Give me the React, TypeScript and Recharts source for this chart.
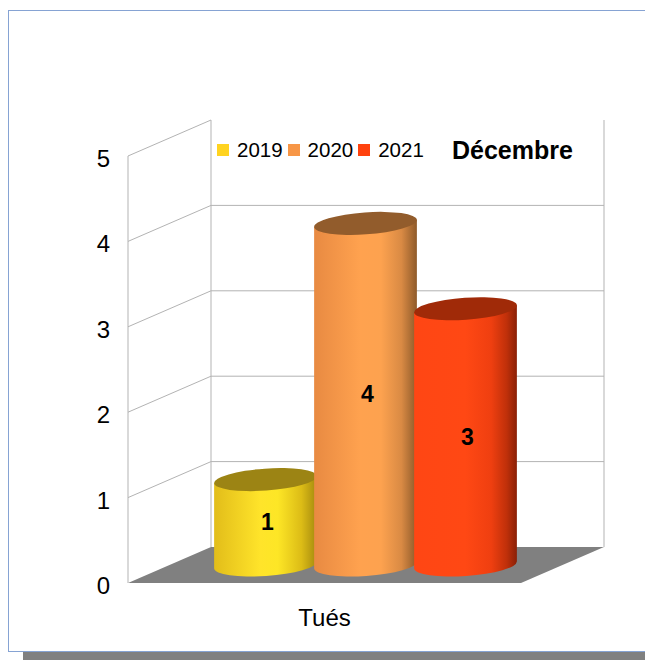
import React from 'react';
import { BarChart, Bar, XAxis, YAxis, CartesianGrid, Legend, LabelList } from 'recharts';

const categories = ['Tués'];
const values2019 = [1];
const values2020 = [4];
const values2021 = [3];
const yTicks = [0, 1, 2, 3, 4, 5];
const seriesNames = ['2019', '2020', '2021'];
const seriesKeys = ['s2019', 's2020', 's2021'];
const legendColors = ['#ffd320', '#f79646', '#ff420e'];
const chartTitle = 'Décembre';

const data = categories.map((c, i) => ({
  name: c,
  s2019: values2019[i],
  s2020: values2020[i],
  s2021: values2021[i],
}));

const FONT = '"Liberation Sans", Arial, sans-serif';
// 3D depth offsets (back wall, and middle depth where the cylinders stand)
const DX = 83;
const DY = -36;
const MX = 41.5;
const MY = -18;
const GRID = '#b3b3b3';
const TILT = 4;

const cylStyles = [
  {
    id: 'g2019',
    stops: [
      ['0%', '#e2bd1a'],
      ['45%', '#ffe42a'],
      ['62%', '#fde626'],
      ['85%', '#dcbc16'],
      ['100%', '#a58a0e'],
    ],
    top: '#9c8414',
  },
  {
    id: 'g2020',
    stops: [
      ['0%', '#e88a42'],
      ['45%', '#ffa24f'],
      ['65%', '#fda24f'],
      ['85%', '#d98a44'],
      ['100%', '#8e5a2a'],
    ],
    top: '#925c2c',
  },
  {
    id: 'g2021',
    stops: [
      ['0%', '#ff4614'],
      ['50%', '#ff4814'],
      ['75%', '#ef3f10'],
      ['90%', '#c0300a'],
      ['100%', '#8a2006'],
    ],
    top: '#a02a08',
  },
];

const makeCylinder = (si: number) => (props: any) => {
  const { x, y, width, height } = props;
  if (x == null || width == null || height == null) return null;
  const st = cylStyles[si];
  const w = width + 3;
  const rx = w / 2;
  const ry = 11;
  const cx = x + width / 2 + MX;
  const top = y + MY;
  const bottom = y + height + MY;
  const t = (TILT * Math.PI) / 180;
  const ex = rx * Math.cos(t);
  const ey = rx * Math.sin(t);
  const d = `M${cx - ex},${top + ey} L${cx - ex},${bottom + ey} A${rx},${ry} ${-TILT} 0 0 ${cx + ex},${bottom - ey} L${cx + ex},${top - ey} Z`;
  return (
    <g>
      <defs>
        <linearGradient id={st.id} x1="0" y1="0" x2="1" y2="0">
          {st.stops.map(([o, c]) => (
            <stop key={o} offset={o} stopColor={c} />
          ))}
        </linearGradient>
      </defs>
      <path d={d} fill={`url(#${st.id})`} />
      <ellipse cx={cx} cy={top} rx={rx} ry={ry} fill={st.top} transform={`rotate(${-TILT} ${cx} ${top})`} />
    </g>
  );
};

const CylLabel = (props: any) => {
  const vb = props.viewBox && props.viewBox.width != null ? props.viewBox : props;
  const { x, y, width, height } = vb;
  if (x == null) return null;
  return (
    <text
      x={x + width / 2 + MX + 2}
      y={y + height / 2 + MY + 8}
      textAnchor="middle"
      fontFamily={FONT}
      fontWeight="bold"
      fontSize={23}
      fill="#000"
    >
      {props.value}
    </text>
  );
};

const GridLine = (props: any) => {
  const { x1, y1, x2, x, y, width, height, index } = props;
  const isTop = Math.abs(y1 - y) < 0.5;
  const isBottom = Math.abs(y1 - (y + height)) < 0.5;
  return (
    <g key={`gl-${index}`}>
      {index === 0 && (
        <g>
          <polygon
            points={`${x},${y + height} ${x + DX},${y + height + DY} ${x + width + DX},${y + height + DY} ${x + width},${y + height}`}
            fill="#808080"
          />
          <line x1={x} y1={y} x2={x} y2={y + height} stroke={GRID} />
          <line x1={x + DX} y1={y + DY} x2={x + DX} y2={y + height + DY} stroke={GRID} />
          <line x1={x + width + DX} y1={y + DY} x2={x + width + DX} y2={y + height + DY} stroke={GRID} />
          <line x1={x} y1={y} x2={x + DX} y2={y + DY} stroke={GRID} />
        </g>
      )}
      {!isTop && !isBottom && (
        <g>
          <line x1={x1} y1={y1} x2={x1 + DX} y2={y1 + DY} stroke={GRID} />
          <line x1={x1 + DX} y1={y1 + DY} x2={x2 + DX} y2={y1 + DY} stroke={GRID} />
        </g>
      )}
    </g>
  );
};

const YTick = (props: any) => {
  const { x, y, payload } = props;
  return (
    <text x={x} y={y + 11} textAnchor="end" fontFamily={FONT} fontSize={24} fill="#000">
      {payload.value}
    </text>
  );
};

const XTick = (props: any) => {
  const { x, y, payload } = props;
  return (
    <text x={x} y={y + 37} textAnchor="middle" fontFamily={FONT} fontSize={24} fill="#000">
      {payload.value}
    </text>
  );
};

const LegendContent = (props: any) => {
  const { payload } = props;
  return (
    <div style={{ display: 'flex', alignItems: 'center', whiteSpace: 'nowrap', fontFamily: FONT, fontSize: 20.5, lineHeight: '21px', color: '#000' }}>
      {(payload || []).map((p: any, i: number) => (
        <div key={i} style={{ display: 'flex', alignItems: 'center', marginRight: 5 }}>
          <span style={{ display: 'inline-block', width: 12, height: 12, background: p.color, marginRight: 8 }} />
          <span>{p.value}</span>
        </div>
      ))}
    </div>
  );
};

export default function App() {
  return (
    <div style={{ position: 'absolute', left: 0, top: 0, width: 645, height: 660, overflow: 'hidden', background: '#fff' }}>
      <div
        style={{
          position: 'absolute',
          left: 8,
          top: 10,
          width: 700,
          height: 642,
          boxSizing: 'border-box',
          border: '1px solid #86a3d3',
        }}
      />
      <div style={{ position: 'absolute', left: 23, top: 652, width: 622, height: 8, background: '#808080' }} />
      <div
        style={{
          position: 'absolute',
          left: 452,
          top: 138,
          fontFamily: FONT,
          fontWeight: 'bold',
          fontSize: 25,
          lineHeight: '25px',
          color: '#000',
          whiteSpace: 'nowrap',
        }}
      >
        {chartTitle}
      </div>
      <div style={{ position: 'absolute', left: 0, top: 0 }}>
        <BarChart
          width={645}
          height={660}
          data={data}
          margin={{ top: 156, right: 124, bottom: 37, left: 0 }}
          barCategoryGap={46}
          barGap={0}
        >
          <CartesianGrid vertical={false} horizontal={GridLine} />
          <XAxis dataKey="name" height={40} axisLine={false} tickLine={false} tickMargin={0} tick={XTick} />
          <YAxis
            type="number"
            domain={[0, 5]}
            ticks={yTicks}
            width={128}
            axisLine={false}
            tickLine={false}
            tickMargin={12}
            tick={YTick}
            interval={0}
          />
          <Legend
            verticalAlign="middle"
            align="center"
            layout="horizontal"
            content={LegendContent}
            wrapperStyle={{ left: 217, top: 139, width: 'auto' }}
          />
          {seriesKeys.map((k, i) => (
            <Bar key={k} dataKey={k} name={seriesNames[i]} fill={legendColors[i]} shape={makeCylinder(i)} isAnimationActive={false}>
              <LabelList dataKey={k} content={CylLabel} />
            </Bar>
          ))}
        </BarChart>
      </div>
    </div>
  );
}
